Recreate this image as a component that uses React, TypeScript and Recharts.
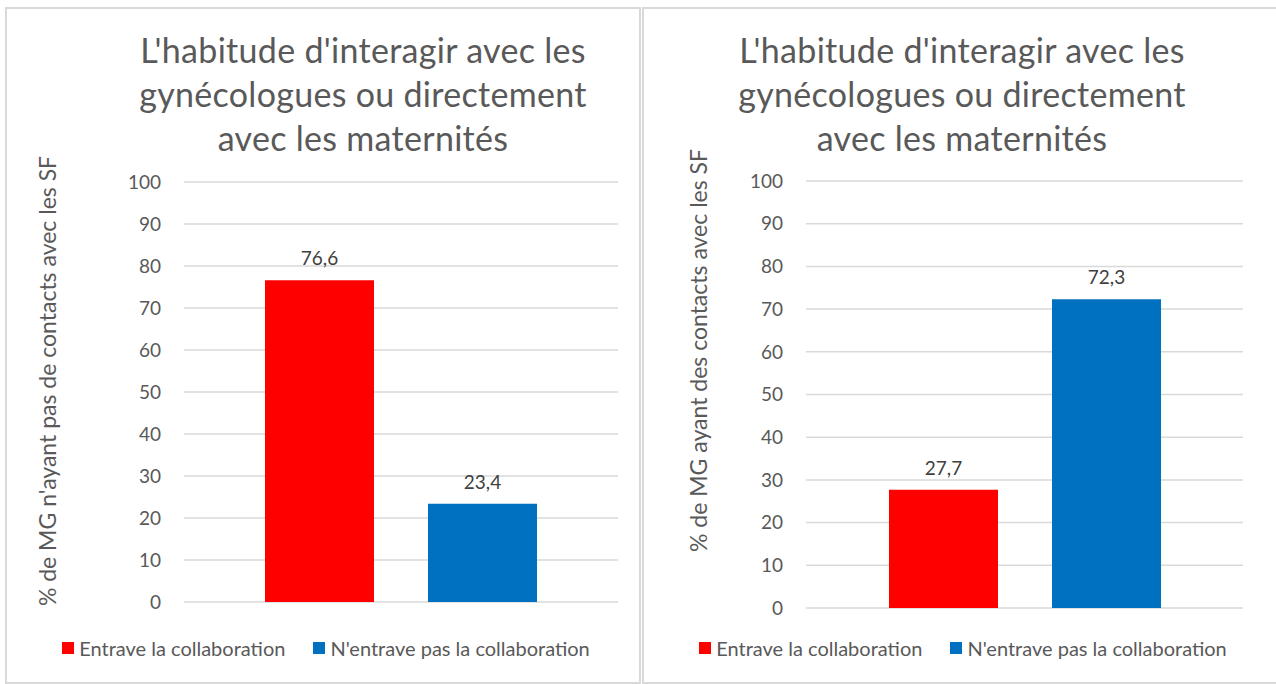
import { BarChart, Bar, XAxis, YAxis, CartesianGrid, Legend, LabelList } from "recharts";

const seriesNames = ["Entrave la collaboration", "N'entrave pas la collaboration"];
const seriesColors = ["#FF0000", "#0070C0"];
const noContactValues = [76.6, 23.4];
const contactValues = [27.7, 72.3];
const yTicks = [0, 10, 20, 30, 40, 50, 60, 70, 80, 90, 100];
const titleLines = ["L'habitude d'interagir avec les", "gynécologues ou directement", "avec les maternités"];
const leftAxisTitle = "% de MG n'ayant pas de contacts avec les SF";
const rightAxisTitle = "% de MG ayant des contacts avec les SF";

const FONT = "Lato, 'Open Sans', sans-serif";

function toRow(values: number[]) {
  return [{ name: "", a: values[0], b: values[1] }];
}

const fmt = (v: unknown) => String(v).replace(".", ",");

function LegendContent() {
  return (
    <div style={{ display: "flex", justifyContent: "center", gap: 28, fontFamily: FONT, fontSize: 20, color: "#595959", paddingLeft: 6 }}>
      {seriesNames.map((n, i) => (
        <div key={n} style={{ display: "flex", alignItems: "center", gap: 5 }}>
          <span style={{ width: 12, height: 12, background: seriesColors[i], display: "inline-block" }} />
          <span>{n}</span>
        </div>
      ))}
    </div>
  );
}

interface PanelProps {
  left: number;
  width: number;
  values: number[];
  axisTitle: string;
  margin: { top: number; right: number; bottom: number; left: number };
  titleCenter: number;
  axisTitleDx: number;
  axisTitleDy: number;
}

function Panel({ left, width, values, axisTitle, margin, titleCenter, axisTitleDx, axisTitleDy }: PanelProps) {
  return (
    <div style={{ position: "absolute", left, top: 7, width, height: 677, border: "2px solid #d9d9d9", boxSizing: "border-box", background: "#fff" }}>
      <div
        style={{
          position: "absolute",
          left: titleCenter - 300,
          width: 600,
          top: 19,
          textAlign: "center",
          fontFamily: FONT,
          fontSize: 34,
          letterSpacing: 0.3,
          lineHeight: "44px",
          color: "#595959",
        }}
      >
        {titleLines.map((l) => (
          <div key={l}>{l}</div>
        ))}
      </div>
      <div style={{ position: "absolute", left: -2, top: -2 }}>
        <BarChart width={width} height={677} data={toRow(values)} margin={margin} barGap={54}>
          <CartesianGrid horizontal vertical={false} stroke="#d9d9d9" strokeWidth={1.5} />
          <XAxis dataKey="name" hide />
          <YAxis
            domain={[0, 100]}
            ticks={yTicks}
            width={60}
            tickLine={false}
            axisLine={false}
            tickSize={0}
            tickMargin={23}
            tick={{ fill: "#595959", fontSize: 19, fontFamily: FONT }}
            interval={0}
            label={(props: any) => {
              const vb = props.viewBox;
              const cx = vb.x + axisTitleDx;
              const cy = vb.y + vb.height / 2 + axisTitleDy;
              return (
                <text
                  x={cx}
                  y={cy}
                  transform={`rotate(-90 ${cx} ${cy})`}
                  textAnchor="middle"
                  dominantBaseline="central"
                  fill="#595959"
                  fontSize={23}
                  fontFamily={FONT}
                >
                  {axisTitle}
                </text>
              );
            }}
          />
          <Legend
            layout="horizontal"
            verticalAlign="middle"
            align="center"
            content={<LegendContent />}
            wrapperStyle={{ position: "absolute", left: 0, top: 629, width }}
          />
          {["a", "b"].map((k, i) => (
            <Bar key={k} dataKey={k} name={seriesNames[i]} fill={seriesColors[i]} barSize={109} isAnimationActive={false}>
              <LabelList dataKey={k} position="top" offset={15} fill="#404040" fontSize={19} fontFamily={FONT} formatter={fmt} />
            </Bar>
          ))}
        </BarChart>
      </div>
    </div>
  );
}

export default function App() {
  return (
    <div style={{ position: "absolute", left: 0, top: 0, width: 1276, height: 684, background: "#fff", overflow: "hidden" }}>
      <Panel
        left={5}
        width={636}
        values={noContactValues}
        axisTitle={leftAxisTitle}
        margin={{ top: 175, right: 23, bottom: 82, left: 119 }}
        titleCenter={356}
        axisTitleDx={-77}
        axisTitleDy={-11}
      />
      <Panel
        left={642}
        width={636}
        values={contactValues}
        axisTitle={rightAxisTitle}
        margin={{ top: 174, right: 35, bottom: 76, left: 104 }}
        titleCenter={318}
        axisTitleDx={-48}
        axisTitleDy={-44}
      />
    </div>
  );
}
